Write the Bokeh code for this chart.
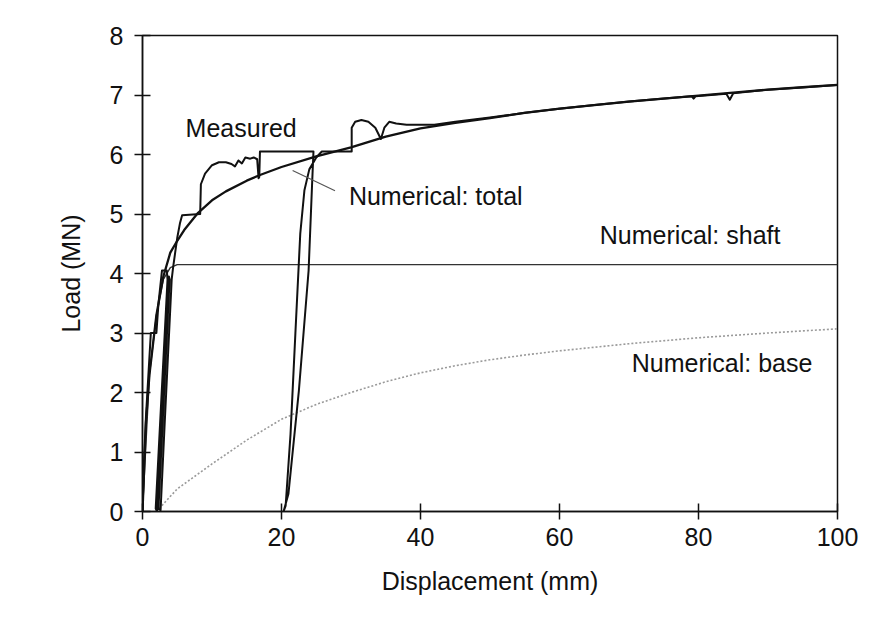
from bokeh.plotting import figure
from bokeh.embed import file_html
from bokeh.resources import INLINE
from bokeh.models import FixedTicker
from bokeh.core.properties import value

# ---- data ----
total_x = [0, 0.5, 1, 2, 3, 4, 5, 6, 8, 10, 12, 15, 17, 20, 25, 30, 35, 40, 45, 50, 55, 60, 65, 70,
           75, 80, 85, 90, 95, 100]
total_y = [0, 1.5, 2.3, 3.3, 3.95, 4.35, 4.55, 4.73, 5.02, 5.23, 5.38, 5.56, 5.66, 5.79, 5.97, 6.12,
           6.3, 6.44, 6.53, 6.61, 6.7, 6.77, 6.83, 6.89, 6.94, 6.99, 7.04, 7.09, 7.13, 7.17]

shaft_x = [0, 1, 2, 3, 4, 5, 100]
shaft_y = [0, 2.3, 3.3, 3.9, 4.1, 4.15, 4.15]

base_x = [2, 5, 10, 15, 20, 25, 30, 35, 40, 45, 50, 55, 60, 70, 80, 90, 100]
base_y = [0, 0.38, 0.8, 1.2, 1.55, 1.8, 2.0, 2.18, 2.33, 2.45, 2.55, 2.63, 2.7, 2.82, 2.92, 3.0, 3.07]

meas_x = [0, 0.2, 0.5, 0.9, 1.2, 2.0, 2.3, 2.8, 3.5, 3.6, 1.9, 2.1, 2.4, 3.8, 3.9, 2.3, 2.6, 3.2, 4.2,
          4.4, 4.7, 5.0, 5.4, 5.7, 8.3, 8.4, 9.0, 10.0, 11.0, 12.0, 12.8, 13.3, 13.8, 14.3, 14.8,
          15.5, 16.0, 16.5, 16.7, 16.8, 16.9, 24.6, 24.4, 23.9, 22.5, 21.0, 20.3, 20.6, 21.3, 22.0,
          22.7, 23.3, 24.0, 25.0, 25.8, 30.1, 30.1, 30.6, 31.5, 32.5, 33.5, 34.3, 34.8, 35.5, 36.5,
          38.0, 42.0, 45.0, 50.0, 55.0, 60.0, 65.0, 70.0, 75.0, 79.0, 79.3, 79.6, 84.0, 84.5, 85.0,
          90.0, 100.0]
meas_y = [0, 0.8, 1.6, 2.4, 3.0, 3.0, 3.5, 4.05, 4.05, 3.9, 0.05, 0.0, 0.6, 3.95, 3.9, 0.05, 0.02, 1.5, 3.9,
          4.1, 4.35, 4.6, 4.85, 4.98, 5.0, 5.5, 5.68, 5.82, 5.87, 5.87, 5.84, 5.8, 5.9, 5.85, 5.95,
          5.93, 5.95, 5.92, 5.6, 5.62, 6.05, 6.05, 5.5, 4.05, 2.03, 0.3, 0.0, 0.1, 1.3, 3.0,
          4.67, 5.4, 5.75, 5.95, 6.05, 6.05, 6.45, 6.55, 6.58, 6.55, 6.45, 6.26, 6.45, 6.55, 6.52,
          6.5, 6.5, 6.55, 6.62, 6.7, 6.77, 6.83, 6.89, 6.94, 6.98, 6.94, 6.98, 7.02, 6.92, 7.03,
          7.09, 7.17]

x_ticks = [0, 20, 40, 60, 80, 100]
y_ticks = [0, 1, 2, 3, 4, 5, 6, 7, 8]

labels = ["Measured", "Numerical: total", "Numerical: shaft", "Numerical: base"]
label_x = [6.2, 29.7, 65.8, 70.4]
label_y = [6.44, 5.31, 4.64, 2.50]

leader_x = [21.6, 27.7]
leader_y = [5.73, 5.39]

FONT = "Liberation Sans"
FS = "25px"

p = figure(width=871, height=635, output_backend="svg", toolbar_location=None,
           x_range=(0, 100), y_range=(0, 8),
           frame_width=695, frame_height=476,
           min_border_left=142, min_border_right=34, min_border_top=35, min_border_bottom=124)
p.background_fill_color = "white"
p.border_fill_color = "white"
p.grid.visible = False
p.outline_line_color = "#111111"
p.outline_line_width = 1.5

for ax in (p.xaxis[0], p.yaxis[0]):
    ax.axis_line_color = "#111111"
    ax.axis_line_width = 1.5
    ax.major_tick_line_color = "#111111"
    ax.major_tick_line_width = 1.5
    ax.major_tick_in = 8
    ax.major_tick_out = 8
    ax.minor_tick_line_color = None
    ax.major_label_text_font = FONT
    ax.major_label_text_font_size = FS
    ax.major_label_text_color = "#111111"
    ax.axis_label_text_font = FONT
    ax.axis_label_text_font_size = FS
    ax.axis_label_text_font_style = "normal"
    ax.axis_label_text_color = "#111111"

p.xaxis.ticker = FixedTicker(ticks=x_ticks)
p.yaxis.ticker = FixedTicker(ticks=y_ticks)
p.xaxis.axis_label = "Displacement (mm)"
p.yaxis.axis_label = "Load (MN)"
p.xaxis.major_label_standoff = 8
p.yaxis.major_label_standoff = 11
p.xaxis.axis_label_standoff = 18
p.yaxis.axis_label_standoff = 22

# numerical base (dotted grey)
p.line(base_x, base_y, line_color="#9a9a9a", line_width=1.6, line_dash="2 2")
# numerical shaft
p.line(shaft_x, shaft_y, line_color="#333333", line_width=1.4)
# measured
p.line(meas_x, meas_y, line_color="#111111", line_width=2.0, line_join="round")
# numerical total
p.line(total_x, total_y, line_color="#111111", line_width=2.3, line_join="round")
# leader line
p.line(leader_x, leader_y, line_color="#555555", line_width=1.2)

p.text(x=label_x, y=label_y, text=labels, text_font=value(FONT), text_font_size=FS,
       text_color="#111111", text_baseline="middle", text_align="left")

open("out.html", "w").write(file_html(p, INLINE))
